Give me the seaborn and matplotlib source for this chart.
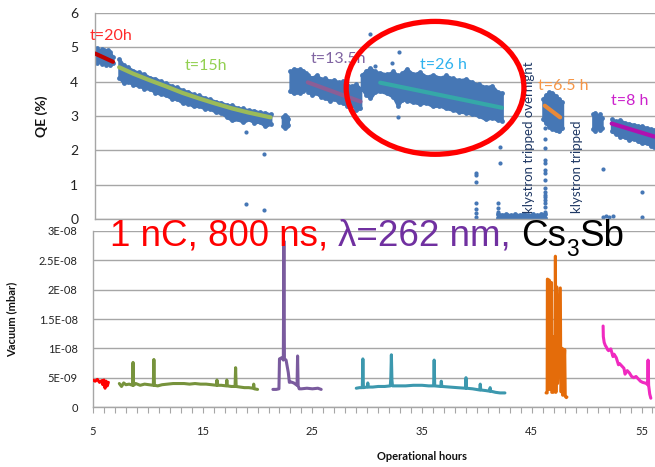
import matplotlib
matplotlib.use("Agg")
import matplotlib.pyplot as plt
import seaborn as sns
from matplotlib.patches import Ellipse
from matplotlib.ticker import FixedLocator, MultipleLocator

sns.set_theme(style="white")
plt.rcParams['font.family'] = ['Lato', 'DejaVu Sans']

# ---------------- QE (%) data : top panel ----------------
# dense bands of measured points (upper / lower envelope read from picture)
red_h = [5.0, 5.2, 5.4, 5.6, 5.8, 6.0, 6.2, 6.4, 6.6]
red_hi = [4.92, 4.97, 4.90, 4.95, 4.93, 4.88, 4.92, 4.85, 4.72]
red_lo = [4.62, 4.55, 4.60, 4.52, 4.58, 4.50, 4.56, 4.48, 4.55]

grn_h = [7.2, 7.6, 8.0, 8.5, 9.0, 9.5, 10.0, 10.5, 11.0, 11.5, 12.0, 12.5, 13.0, 13.5, 14.0,
         14.5, 15.0, 15.5, 16.0, 16.5, 17.0, 17.5, 18.0, 18.5, 19.0, 19.5, 20.0, 20.5, 21.0]
grn_hi = [4.66, 4.48, 4.42, 4.32, 4.27, 4.22, 4.12, 4.09, 4.01, 3.96, 3.87, 3.84, 3.75, 3.71, 3.63,
          3.60, 3.53, 3.49, 3.42, 3.39, 3.33, 3.31, 3.24, 3.22, 3.17, 3.16, 3.11, 3.10, 3.05]
grn_lo = [4.12, 3.96, 4.00, 3.91, 3.88, 3.80, 3.79, 3.68, 3.64, 3.60, 3.50, 3.49, 3.37, 3.36, 3.28,
          3.29, 3.21, 3.21, 3.11, 3.09, 2.97, 2.87, 2.90, 2.82, 2.90, 2.81, 2.83, 2.70, 2.77]

blA_h = [22.1, 22.3, 22.5, 22.6]
blA_hi = [2.98, 3.02, 2.97, 2.92]
blA_lo = [2.72, 2.66, 2.70, 2.75]

blB_h = [22.8, 23.1, 23.4, 23.7, 24.0, 24.2]
blB_hi = [4.30, 4.38, 4.34, 4.36, 4.32, 4.25]
blB_lo = [3.72, 3.66, 3.70, 3.68, 3.72, 3.78]

pur_h = [24.4, 24.8, 25.2, 25.6, 26.0, 26.4, 26.8, 27.2, 27.6, 28.0, 28.4, 28.8, 29.2]
pur_hi = [4.18, 4.12, 4.20, 4.08, 4.10, 4.02, 4.06, 3.98, 4.02, 3.90, 3.88, 3.92, 3.80]
pur_lo = [3.70, 3.62, 3.66, 3.55, 3.52, 3.45, 3.50, 3.40, 3.38, 3.30, 3.35, 3.18, 3.22]

tea_h = [29.3, 29.7, 30.1, 30.5, 31.0, 31.6, 32.2, 32.6, 33.0, 33.4, 34.0, 34.6, 35.2,
         35.8, 36.4, 37.0, 37.6, 38.2, 38.8, 39.4, 40.0, 40.6, 41.2, 41.7, 42.1]
tea_hi = [4.20, 4.32, 4.40, 4.30, 4.26, 4.22, 4.30, 4.18, 4.25, 4.38, 4.22, 4.28, 4.15,
          4.20, 4.12, 4.18, 4.10, 4.05, 4.08, 3.98, 3.92, 3.85, 3.88, 3.70, 3.68]
tea_lo = [3.80, 3.62, 3.52, 3.70, 3.72, 3.66, 3.55, 3.30, 3.48, 3.45, 3.40, 3.36, 3.38,
          3.28, 3.30, 3.22, 3.18, 3.12, 3.10, 3.05, 3.00, 2.90, 2.95, 2.88, 2.86]

low_h = [41.7, 42.1, 42.5, 42.9, 43.3, 43.7, 44.1, 44.5, 44.9, 45.3, 45.7, 46.0]
low_hi = [0.16, 0.12, 0.15, 0.11, 0.14, 0.12, 0.15, 0.12, 0.14, 0.11, 0.15, 0.14]
low_lo = [0.03, 0.04, 0.02, 0.04, 0.03, 0.02, 0.04, 0.03, 0.02, 0.04, 0.03, 0.03]

orn_h = [45.85, 46.1, 46.4, 46.7, 47.0, 47.3, 47.6]
orn_hi = [3.50, 3.62, 3.70, 3.68, 3.58, 3.50, 3.40]
orn_lo = [2.90, 2.80, 2.68, 2.62, 2.58, 2.55, 2.65]

blC_h = [50.4, 50.6, 50.8, 51.0, 51.2]
blC_hi = [3.05, 3.10, 3.00, 3.05, 2.95]
blC_lo = [2.62, 2.55, 2.70, 2.58, 2.65]

mag_h = [52.1, 52.5, 52.9, 53.3, 53.7, 54.1, 54.5, 54.9, 55.3, 55.7, 56.0]
mag_hi = [2.90, 2.85, 2.88, 2.80, 2.78, 2.75, 2.72, 2.70, 2.66, 2.62, 2.58]
mag_lo = [2.55, 2.48, 2.40, 2.38, 2.30, 2.34, 2.26, 2.20, 2.22, 2.12, 2.10]

# isolated measured points
out_h = [18.76, 20.4, 18.76, 20.4,
         30.07, 32.7, 32.07, 30.5, 32.6, 41.9, 41.9,
         39.73, 39.73, 39.73, 39.73, 39.73, 39.73, 39.73,
         41.7, 41.7, 41.7,
         46.0, 46.0, 46.0, 46.0, 46.0, 46.0, 46.0, 46.0, 46.0, 46.0, 46.0, 46.0, 46.0, 46.0, 46.0, 46.0,
         51.3, 51.3, 51.6, 51.9, 52.2, 54.86, 54.86]
out_v = [2.53, 1.90, 0.45, 0.25,
         5.38, 4.87, 4.55, 4.45, 2.96, 2.09, 1.62,
         1.33, 1.27, 1.07, 0.46, 0.29, 0.17, 0.06,
         0.46, 0.31, 0.20,
         2.64, 2.33, 2.06, 1.71, 1.62, 1.42, 1.33, 1.13, 0.90, 0.80, 0.70, 0.64, 0.55, 0.46, 0.35, 0.20,
         1.47, 0.06, 0.08, 0.05, 0.10, 0.78, 0.05]

# fitted lifetime curves
fit_red_h, fit_red_v = [5.0, 6.64], [4.82, 4.58]
fit_grn_h = [7.2, 8.5, 10.0, 11.5, 13.0, 14.5, 16.0, 17.5, 19.0, 21.0]
fit_grn_v = [4.42, 4.23, 4.04, 3.86, 3.67, 3.51, 3.36, 3.22, 3.10, 2.96]
fit_pur_h, fit_pur_v = [24.4, 29.2], [3.98, 3.42]
fit_tea_h, fit_tea_v = [31.0, 42.1], [3.97, 3.24]
fit_orn_h, fit_orn_v = [46.0, 47.4], [3.30, 2.96]
fit_mag_h, fit_mag_v = [52.1, 56.0], [2.78, 2.40]

# ---------------- Vacuum data (units of 1E-09 mbar) : bottom panel ----------------
vac_red_h = [5.0, 5.2, 5.4, 5.6, 5.8, 5.9, 6.0, 6.1, 6.2, 6.3, 6.4]
vac_red_v = [4.6, 4.4, 4.7, 4.2, 4.5, 3.8, 4.6, 3.2, 4.4, 3.6, 4.2]

vac_grn_h = [7.4, 7.6, 7.8, 8.0, 8.3, 8.6, 8.65, 8.7, 8.9, 9.3, 9.7, 10.1, 10.5, 10.55, 10.6, 10.9,
             11.3, 11.8, 12.3, 12.8, 13.3, 13.8, 14.3, 14.8, 15.3, 15.8, 16.25, 16.3, 16.35, 16.7,
             17.15, 17.2, 17.25, 17.6, 17.95, 18.0, 18.05, 18.4, 18.8, 19.2, 19.6, 19.65, 19.7, 20.0]
vac_grn_v = [4.0, 3.5, 4.1, 3.8, 3.9, 3.7, 7.6, 3.7, 4.0, 3.7, 3.9, 3.8, 3.7, 8.1, 3.7, 3.6,
             3.8, 3.9, 4.0, 4.0, 4.0, 3.9, 4.0, 3.9, 3.9, 3.8, 3.7, 4.6, 3.7, 3.7,
             3.6, 4.6, 3.6, 3.5, 3.5, 6.7, 3.5, 3.4, 3.3, 3.3, 3.2, 3.9, 3.1, 3.0]

vac_pur_h = [21.4, 21.7, 21.95, 22.0, 22.2, 22.35, 22.4, 22.45, 22.6, 22.8, 22.9, 23.0, 23.3,
             23.6, 23.65, 23.7, 23.8, 24.0, 24.5, 25.0, 25.5, 25.8]
vac_pur_v = [3.0, 3.0, 3.1, 8.2, 8.4, 8.0, 28.3, 8.2, 8.0, 5.9, 4.2, 4.3, 4.1,
             3.7, 8.7, 3.6, 3.1, 3.1, 3.2, 3.1, 3.2, 3.0]

vac_tea_h = [29.0, 29.3, 29.55, 29.6, 29.65, 30.0, 30.05, 30.1, 30.5, 31.0, 31.6, 32.1, 32.15,
             32.2, 32.25, 32.3, 32.8, 33.5, 34.2, 35.0, 35.6, 36.05, 36.1, 36.15, 36.7, 36.75,
             36.8, 37.5, 38.2, 38.95, 39.0, 39.05, 39.6, 40.25, 40.3, 40.35, 40.8, 41.15, 41.2,
             41.25, 41.7, 42.1, 42.55]
vac_tea_v = [3.2, 3.3, 3.3, 8.2, 3.3, 3.4, 4.1, 3.4, 3.4, 3.5, 3.5, 3.6, 5.0,
             8.9, 4.6, 3.6, 3.6, 3.6, 3.7, 3.7, 3.6, 3.6, 8.0, 3.6, 3.5, 4.4,
             3.5, 3.4, 3.3, 3.2, 5.0, 3.2, 3.1, 2.9, 3.9, 2.9, 2.8, 2.7, 3.3,
             2.7, 2.5, 2.4, 2.4]

vac_orn_h = [46.3, 46.40, 46.42, 46.60, 46.62, 46.64, 46.66, 46.80, 46.82, 46.95, 47.0, 47.05,
             47.1, 47.15, 47.2, 47.25, 47.3, 47.35, 47.6, 47.65, 47.7, 47.78, 47.82, 48.0, 48.05,
             48.15, 48.2]
vac_orn_v = [2.4, 2.4, 21.8, 21.6, 3.0, 3.0, 21.3, 21.2, 2.5, 2.5, 12.0, 2.6,
             2.6, 25.7, 2.5, 20.5, 20.4, 4.0, 20.3, 2.6, 2.6, 10.0, 2.0, 9.8, 1.8,
             1.6, 1.7]

vac_mag_h = [51.5, 51.52, 51.6, 51.7, 51.8, 51.9, 52.0, 52.2, 52.4, 52.5, 52.7, 52.9, 53.0,
             53.2, 53.4, 53.5, 53.7, 53.9, 54.1, 54.3, 54.5, 54.7, 54.9, 55.1, 55.3, 55.45,
             55.55, 55.6, 55.65, 55.75, 55.85]
vac_mag_v = [13.8, 12.0, 11.0, 10.5, 10.2, 9.8, 9.6, 9.9, 8.6, 9.0, 8.4, 7.2, 7.4,
             7.0, 6.6, 5.6, 6.2, 5.8, 5.2, 5.0, 5.2, 4.8, 4.4, 4.2, 4.1, 4.0,
             3.8, 8.0, 3.7, 2.2, 1.5]

vac_ticks = [0, 5e-9, 1e-8, 1.5e-8, 2e-8, 2.5e-8, 3e-8]
vac_tick_labels = ['0', '5E-09', '1E-08', '1.5E-08', '2E-08', '2.5E-08', '3E-08']
hour_ticks = [5, 15, 25, 35, 45, 55]
qe_ticks = [0, 1, 2, 3, 4, 5, 6]

# ---------------- figure ----------------
W, H = 655, 467
fig = plt.figure(figsize=(W / 100, H / 100), dpi=100)
ax1 = fig.add_axes([95 / W, 1 - 219 / H, 1 - 95 / W, (219 - 13) / H])
ax2 = fig.add_axes([93 / W, 1 - 407 / H, 1 - 93 / W, (407 - 231) / H])

BLUE = '#4677B5'
GRID = '#A6A6A6'

# bands
bands = [(red_h, red_hi, red_lo), (grn_h, grn_hi, grn_lo), (blA_h, blA_hi, blA_lo),
         (blB_h, blB_hi, blB_lo), (pur_h, pur_hi, pur_lo), (tea_h, tea_hi, tea_lo),
         (low_h, low_hi, low_lo), (orn_h, orn_hi, orn_lo), (blC_h, blC_hi, blC_lo),
         (mag_h, mag_hi, mag_lo)]
for hh, hi, lo in bands:
    ax1.fill_between(hh, lo, hi, color=BLUE, lw=2.0, edgecolor=BLUE, zorder=2)
    sns.scatterplot(x=hh + hh, y=hi + lo, ax=ax1, s=12, color=BLUE, linewidth=0,
                    legend=False, zorder=2)
sns.scatterplot(x=out_h, y=out_v, ax=ax1, s=9, color=BLUE, linewidth=0, legend=False, zorder=2)

fits = [(fit_red_h, fit_red_v, '#C00000'), (fit_grn_h, fit_grn_v, '#9BBB59'),
        (fit_pur_h, fit_pur_v, '#8B5E96'), (fit_tea_h, fit_tea_v, '#35A8A8'),
        (fit_orn_h, fit_orn_v, '#E8893A'), (fit_mag_h, fit_mag_v, '#B010B0')]
for hh, vv, c in fits:
    sns.lineplot(x=hh, y=vv, ax=ax1, color=c, lw=3.0, sort=False, estimator=None, zorder=3)

ax1.set_xlim(5, 5 + (W - 95) / 10.97)
ax1.set_ylim(0, 6)
ax1.set_xticks([])
ax1.yaxis.set_major_locator(FixedLocator(qe_ticks))
ax1.set_yticklabels([str(t) for t in qe_ticks])
ax1.tick_params(axis='y', length=0, labelsize=10, pad=12, labelcolor='#222222')
ax1.grid(axis='y', color=GRID, lw=1.0)
ax1.set_axisbelow(True)
for s in ['top', 'right']:
    ax1.spines[s].set_visible(False)
for s in ['left', 'bottom']:
    ax1.spines[s].set_color(GRID)
    ax1.spines[s].set_linewidth(1.0)
ax1.set_ylabel('QE (%)', fontsize=10, fontweight='bold', color='#111111')
ax1.yaxis.set_label_coords((48 - 95) / (W - 95), 0.5)

# labels on top panel
lab_kw = dict(fontsize=11.5, ha='center', va='center', zorder=5)
ax1.text(6.46, 5.32, 't=20h', color='#FF2A2A', **lab_kw)
ax1.text(15.1, 4.45, 't=15h', color='#92D050', **lab_kw)
ax1.text(27.15, 4.65, 't=13.5h', color='#8064A2', **lab_kw)
ax1.text(36.72, 4.48, 't=26 h', color='#2EB2EE', **lab_kw)
ax1.text(47.66, 3.87, 't=6.5 h', color='#F79646', **lab_kw)
ax1.text(53.77, 3.43, 't=8 h', color='#CC22CC', **lab_kw)

ax1.text(44.56, 0.17, 'klystron tripped overnight', rotation=90, ha='center', va='bottom',
         fontsize=9.5, color='#1F3864', zorder=4)
ax1.text(48.94, 0.17, 'klystron tripped', rotation=90, ha='center', va='bottom',
         fontsize=9.5, color='#1F3864', zorder=4)

ax1.add_patch(Ellipse((36.0, 3.82), width=16.2, height=3.87, fill=False,
                      edgecolor='#FF0000', lw=3.8, zorder=6, clip_on=False))

# bottom panel
vacs = [(vac_red_h, vac_red_v, '#FF0000'), (vac_grn_h, vac_grn_v, '#77933C'),
        (vac_pur_h, vac_pur_v, '#7A5B9E'), (vac_tea_h, vac_tea_v, '#3C98AE'),
        (vac_orn_h, vac_orn_v, '#E46C0A'), (vac_mag_h, vac_mag_v, '#F02AC0')]
for hh, vv, c in vacs:
    sns.lineplot(x=hh, y=[v * 1e-9 for v in vv], ax=ax2, color=c, lw=2.2, sort=False,
                 estimator=None, zorder=3)

ax2.set_xlim(5, 5 + (W - 93) / 10.97)
ax2.set_ylim(0, 3e-8)
ax2.yaxis.set_major_locator(FixedLocator(vac_ticks))
ax2.set_yticklabels(vac_tick_labels)
ax2.xaxis.set_major_locator(FixedLocator(hour_ticks))
ax2.set_xticklabels([str(t) for t in hour_ticks])
ax2.xaxis.set_minor_locator(MultipleLocator(1))
ax2.tick_params(axis='y', length=0, labelsize=8, pad=11, labelcolor='#222222')
ax2.tick_params(axis='x', which='both', direction='out', bottom=True, length=4, width=0.8,
                color=GRID, labelsize=8, pad=10, labelcolor='#222222')
ax2.grid(axis='y', color=GRID, lw=1.0)
ax2.set_axisbelow(True)
for s in ['top', 'right']:
    ax2.spines[s].set_visible(False)
for s in ['left', 'bottom']:
    ax2.spines[s].set_color(GRID)
    ax2.spines[s].set_linewidth(1.0)
ax2.set_ylabel('Vacuum (mbar)', fontsize=8, fontweight='bold', color='#111111')
ax2.yaxis.set_label_coords((17 - 93) / (W - 93), 0.5)
ax2.set_xlabel('Operational hours', fontsize=8, fontweight='bold', color='#111111')
ax2.xaxis.set_label_coords((422 - 93) / (W - 93), (407 - 451) / (407 - 231))

# big coloured annotation
renderer = fig.canvas.get_renderer()
pieces = [('1 nC, 800 ns, ', '#FF0000', 1.0, 0), ('λ=262 nm, ', '#7030A0', 1.0, 0),
          ('Cs', '#000000', 1.0, 0), ('3', '#000000', 0.62, -10), ('Sb', '#000000', 1.0, 0)]
big = 26.5
x = 110.0
base = H - 246
for txt, col, scl, dy in pieces:
    t = fig.text(x / W, (base + dy) / H, txt, color=col, fontsize=big * scl,
                 family=['Liberation Sans', 'DejaVu Sans'], ha='left', va='baseline', zorder=10)
    x += t.get_window_extent(renderer).width

fig.savefig('out.png', dpi=100)
